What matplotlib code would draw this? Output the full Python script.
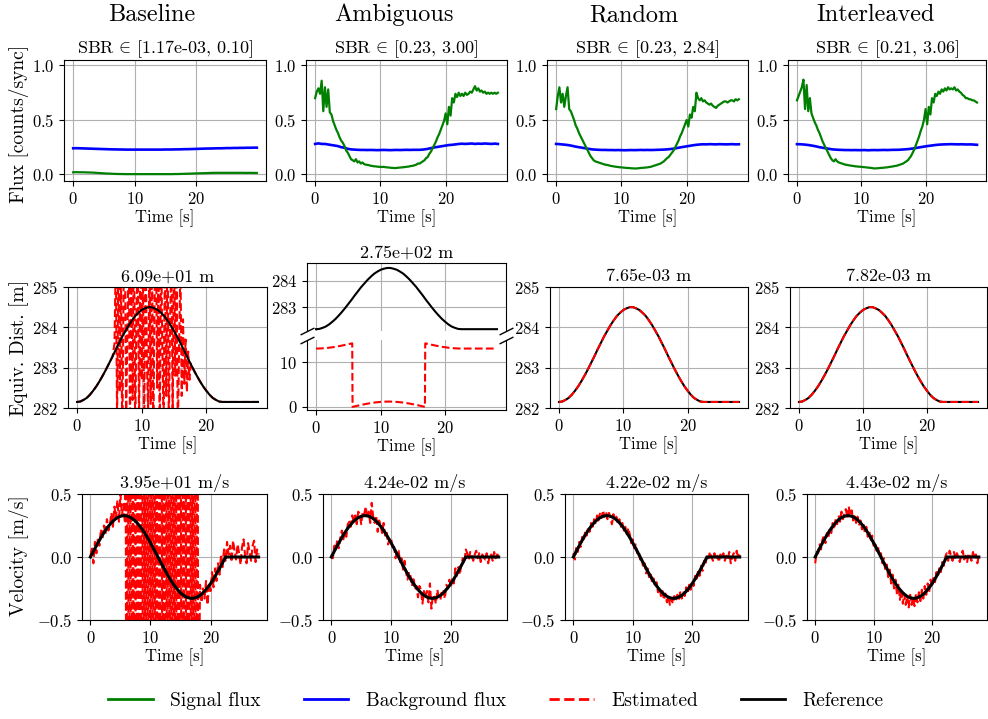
import numpy as np
import matplotlib
matplotlib.use("Agg")
import matplotlib.pyplot as plt
from matplotlib.lines import Line2D

plt.rcParams['font.family'] = 'serif'
plt.rcParams['font.serif'] = ['cmr10']
plt.rcParams['mathtext.fontset'] = 'cm'
plt.rcParams['axes.formatter.use_mathtext'] = True
plt.rcParams['axes.unicode_minus'] = True

# ---------------- data ----------------
methods = ["Baseline", "Ambiguous", "Random", "Interleaved"]
sbr_titles = [r"SBR$\,{\in}\,$[1.17e-03, 0.10]", r"SBR$\,{\in}\,$[0.23, 3.00]",
              r"SBR$\,{\in}\,$[0.23, 2.84]", r"SBR$\,{\in}\,$[0.21, 3.06]"]
dist_titles = ["6.09e+01 m", "2.75e+02 m", "7.65e-03 m", "7.82e-03 m"]
vel_titles = ["3.95e+01 m/s", "4.24e-02 m/s", "4.22e-02 m/s", "4.43e-02 m/s"]
legend_labels = ["Signal flux", "Background flux", "Estimated", "Reference"]

flux_tmax = [29.8, 28.0, 28.0, 28.0]
track_tmax = 28.0

# signal / background flux (baseline and backgrounds: 0.5 s samples; other signals: 0.25 s samples)
sig_baseline = [0.02, 0.021, 0.02, 0.02, 0.019, 0.018, 0.017, 0.015, 0.013, 0.011,
                0.009, 0.008, 0.006, 0.005, 0.004, 0.004, 0.003, 0.003, 0.003, 0.003,
                0.003, 0.003, 0.003, 0.003, 0.003, 0.003, 0.003, 0.003, 0.003, 0.003,
                0.003, 0.004, 0.004, 0.005, 0.006, 0.007, 0.008, 0.009, 0.01, 0.011,
                0.012, 0.013, 0.014, 0.015, 0.015, 0.015, 0.015, 0.015, 0.015, 0.015,
                0.015, 0.015, 0.015, 0.014, 0.015, 0.014, 0.014]
bg_baseline = [0.24, 0.241, 0.24, 0.239, 0.238, 0.237, 0.236, 0.235, 0.234, 0.233,
               0.232, 0.231, 0.23, 0.23, 0.229, 0.229, 0.228, 0.228, 0.228, 0.228,
               0.228, 0.228, 0.228, 0.228, 0.228, 0.228, 0.228, 0.228, 0.229, 0.229,
               0.229, 0.23, 0.23, 0.231, 0.232, 0.232, 0.233, 0.234, 0.235, 0.236,
               0.237, 0.238, 0.238, 0.239, 0.24, 0.24, 0.241, 0.242, 0.242, 0.243,
               0.243, 0.244, 0.244, 0.245, 0.245, 0.246, 0.246]
sig_ambiguous = [0.70, 0.76, 0.79, 0.74, 0.86, 0.58, 0.80, 0.62, 0.78, 0.57,
                 0.55, 0.49, 0.45, 0.41, 0.38, 0.34, 0.31, 0.29, 0.26, 0.22,
                 0.20, 0.17, 0.14, 0.13, 0.12, 0.14, 0.11, 0.12, 0.10, 0.11,
                 0.095, 0.09, 0.088, 0.085, 0.08, 0.078, 0.075, 0.074, 0.072, 0.07,
                 0.07, 0.068, 0.07, 0.067, 0.065, 0.064, 0.062, 0.06, 0.06, 0.058,
                 0.06, 0.062, 0.063, 0.065, 0.066, 0.068, 0.07, 0.072, 0.075, 0.078,
                 0.08, 0.085, 0.09, 0.10, 0.10, 0.11, 0.12, 0.13, 0.15, 0.16,
                 0.19, 0.21, 0.24, 0.27, 0.30, 0.34, 0.37, 0.41, 0.45, 0.49,
                 0.56, 0.46, 0.62, 0.54, 0.70, 0.66, 0.74, 0.71, 0.75, 0.72,
                 0.74, 0.72, 0.75, 0.73, 0.74, 0.76, 0.75, 0.78, 0.81, 0.77,
                 0.79, 0.76, 0.77, 0.75, 0.76, 0.74, 0.75, 0.74, 0.75, 0.74,
                 0.75, 0.74, 0.75]
bg_ambiguous = [0.28, 0.285, 0.28, 0.28, 0.275, 0.27, 0.265, 0.26, 0.25, 0.245,
                0.235, 0.23, 0.228, 0.226, 0.225, 0.225, 0.224, 0.225, 0.224, 0.223,
                0.224, 0.225, 0.224, 0.223, 0.224, 0.225, 0.224, 0.225, 0.226, 0.225,
                0.226, 0.226, 0.226, 0.228, 0.232, 0.238, 0.245, 0.25, 0.255, 0.26,
                0.265, 0.27, 0.272, 0.276, 0.28, 0.282, 0.28, 0.282, 0.284, 0.28,
                0.283, 0.281, 0.284, 0.282, 0.28, 0.283, 0.28]
sig_random = [0.60, 0.72, 0.80, 0.66, 0.74, 0.62, 0.72, 0.80, 0.60, 0.58,
              0.54, 0.50, 0.45, 0.42, 0.38, 0.35, 0.32, 0.29, 0.26, 0.23,
              0.20, 0.17, 0.15, 0.13, 0.12, 0.115, 0.11, 0.105, 0.10, 0.095,
              0.09, 0.088, 0.085, 0.08, 0.077, 0.075, 0.072, 0.07, 0.068, 0.066,
              0.065, 0.063, 0.062, 0.06, 0.06, 0.058, 0.057, 0.056, 0.055, 0.055,
              0.056, 0.058, 0.06, 0.061, 0.062, 0.064, 0.065, 0.068, 0.07, 0.075,
              0.08, 0.085, 0.09, 0.095, 0.10, 0.11, 0.12, 0.135, 0.15, 0.16,
              0.18, 0.20, 0.22, 0.25, 0.28, 0.31, 0.35, 0.38, 0.42, 0.46,
              0.50, 0.44, 0.55, 0.52, 0.62, 0.58, 0.75, 0.70, 0.68, 0.70,
              0.67, 0.68, 0.66, 0.65, 0.64, 0.65, 0.63, 0.62, 0.61, 0.63,
              0.64, 0.65, 0.66, 0.67, 0.67, 0.66, 0.67, 0.68, 0.68, 0.67,
              0.69, 0.68, 0.69]
bg_random = [0.28, 0.278, 0.275, 0.272, 0.268, 0.262, 0.255, 0.25, 0.245, 0.24,
             0.235, 0.23, 0.228, 0.226, 0.225, 0.225, 0.224, 0.224, 0.223, 0.224,
             0.223, 0.222, 0.223, 0.224, 0.223, 0.224, 0.225, 0.224, 0.225, 0.224,
             0.225, 0.226, 0.227, 0.228, 0.23, 0.233, 0.237, 0.242, 0.248, 0.253,
             0.258, 0.263, 0.268, 0.272, 0.275, 0.277, 0.276, 0.278, 0.277, 0.276,
             0.278, 0.277, 0.276, 0.277, 0.278, 0.276, 0.277]
sig_interleaved = [0.68, 0.72, 0.76, 0.80, 0.87, 0.60, 0.82, 0.58, 0.70, 0.56,
                   0.52, 0.48, 0.45, 0.41, 0.38, 0.34, 0.30, 0.27, 0.24, 0.21,
                   0.18, 0.15, 0.13, 0.12, 0.14, 0.12, 0.11, 0.105, 0.10, 0.095,
                   0.09, 0.088, 0.085, 0.082, 0.08, 0.078, 0.075, 0.074, 0.072, 0.071,
                   0.07, 0.068, 0.067, 0.065, 0.063, 0.062, 0.06, 0.058, 0.055, 0.056,
                   0.057, 0.058, 0.06, 0.061, 0.062, 0.064, 0.065, 0.068, 0.07, 0.072,
                   0.075, 0.078, 0.08, 0.085, 0.09, 0.095, 0.10, 0.11, 0.12, 0.13,
                   0.15, 0.17, 0.20, 0.23, 0.27, 0.31, 0.35, 0.40, 0.44, 0.50,
                   0.60, 0.46, 0.62, 0.55, 0.70, 0.66, 0.74, 0.72, 0.76, 0.74,
                   0.78, 0.76, 0.79, 0.77, 0.80, 0.78, 0.79, 0.78, 0.80, 0.77,
                   0.78, 0.76, 0.75, 0.73, 0.72, 0.70, 0.70, 0.69, 0.69, 0.68,
                   0.68, 0.67, 0.66]
bg_interleaved = [0.278, 0.277, 0.275, 0.272, 0.268, 0.263, 0.257, 0.25, 0.245, 0.24,
                  0.235, 0.23, 0.228, 0.226, 0.225, 0.224, 0.224, 0.223, 0.224, 0.223,
                  0.223, 0.224, 0.222, 0.223, 0.224, 0.223, 0.224, 0.225, 0.224, 0.225,
                  0.226, 0.226, 0.227, 0.229, 0.231, 0.234, 0.238, 0.243, 0.248, 0.253,
                  0.258, 0.262, 0.266, 0.27, 0.273, 0.275, 0.276, 0.277, 0.278, 0.277,
                  0.276, 0.277, 0.276, 0.275, 0.276, 0.274, 0.272]

# reference equivalent distance (0.5 s samples)
ref_dist = [282.15, 282.16, 282.20, 282.25, 282.33, 282.43, 282.54, 282.67, 282.81, 282.96,
            283.12, 283.28, 283.45, 283.61, 283.77, 283.91, 284.05, 284.17, 284.28, 284.36,
            284.43, 284.47, 284.50, 284.50, 284.47, 284.43, 284.36, 284.28, 284.17, 284.05,
            283.91, 283.77, 283.61, 283.45, 283.28, 283.12, 282.96, 282.81, 282.67, 282.54,
            282.43, 282.33, 282.25, 282.20, 282.16, 282.15, 282.15, 282.15, 282.15, 282.15,
            282.15, 282.15, 282.15, 282.15, 282.15, 282.15, 282.15]
est_dist_random = [282.15, 282.16, 282.20, 282.25, 282.33, 282.43, 282.54, 282.67, 282.81, 282.96,
                   283.12, 283.28, 283.45, 283.61, 283.77, 283.91, 284.05, 284.17, 284.28, 284.36,
                   284.43, 284.47, 284.50, 284.50, 284.47, 284.43, 284.36, 284.28, 284.17, 284.05,
                   283.91, 283.77, 283.61, 283.45, 283.28, 283.12, 282.96, 282.81, 282.67, 282.54,
                   282.43, 282.33, 282.25, 282.20, 282.16, 282.15, 282.15, 282.15, 282.15, 282.15,
                   282.15, 282.15, 282.15, 282.15, 282.15, 282.15, 282.15]
est_dist_interleaved = [282.15, 282.16, 282.20, 282.25, 282.33, 282.43, 282.54, 282.67, 282.81, 282.96,
                        283.12, 283.28, 283.45, 283.61, 283.77, 283.91, 284.05, 284.17, 284.28, 284.36,
                        284.43, 284.47, 284.50, 284.50, 284.47, 284.43, 284.36, 284.28, 284.17, 284.05,
                        283.91, 283.77, 283.61, 283.45, 283.28, 283.12, 282.96, 282.81, 282.67, 282.54,
                        282.43, 282.33, 282.25, 282.20, 282.16, 282.15, 282.15, 282.15, 282.15, 282.15,
                        282.15, 282.15, 282.15, 282.15, 282.15, 282.15, 282.15]
# baseline estimate: three pieces (before / during / after the failure)
bdist_a = [282.15, 282.16, 282.20, 282.25, 282.33, 282.43, 282.54, 282.67, 282.81, 282.96, 283.12, 283.28]
bdist_b = [283.6, 285.8, 281.7, 286.2, 282.4, 285.3, 281.2, 284.9, 286.4, 281.8,
           283.9, 286.1, 281.5, 285.6, 282.2, 286.8, 281.3, 284.4, 285.9, 281.6,
           286.3, 282.7, 285.1, 281.4, 286.5, 283.2, 281.9, 285.7, 282.1, 286.0,
           281.2, 284.7, 286.6, 282.5, 285.4, 281.3, 286.2, 283.5, 281.7, 285.9,
           282.3, 286.4, 281.6, 284.1, 285.8, 281.9, 286.1, 282.8, 285.2, 281.4,
           283.6, 285.5, 282.3, 284.2, 282.6, 283.7, 282.4, 283.4, 282.7, 283.1]
bdist_c = [282.96, 282.81, 282.67, 282.54, 282.43, 282.33, 282.25, 282.20, 282.16, 282.15,
           282.15, 282.15, 282.15, 282.15, 282.15, 282.15, 282.15, 282.15, 282.15, 282.15, 282.15]
# ambiguous estimate (wrapped), explicit times
amb_est_t = [0, 0.5, 1, 1.5, 2, 2.5, 3, 3.5, 4, 4.5, 5, 5.5, 5.6, 5.65, 6, 6.5, 7, 7.5, 8, 8.5,
             9, 9.5, 10, 10.5, 11, 11.5, 12, 12.5, 13, 13.5, 14, 14.5, 15, 15.5, 16, 16.5, 16.85,
             16.9, 17, 17.5, 18, 18.5, 19, 19.5, 20, 20.5, 21, 21.5, 22, 22.5, 23, 24, 25, 26, 27, 28]
amb_est_v = [13.00, 13.01, 13.05, 13.10, 13.18, 13.28, 13.39, 13.52, 13.66, 13.81, 13.97, 14.13,
             14.16, 0.03, 0.15, 0.31, 0.47, 0.61, 0.75, 0.87, 0.98, 1.06, 1.13, 1.17, 1.20, 1.20,
             1.17, 1.13, 1.06, 0.98, 0.87, 0.75, 0.61, 0.47, 0.31, 0.15, 0.03, 14.16, 14.13,
             13.97, 13.81, 13.66, 13.52, 13.39, 13.28, 13.18, 13.10, 13.05, 13.01, 13.00,
             13.0, 13.0, 13.0, 13.0, 13.0, 13.0]

# reference velocity (0.25 s samples)
ref_vel = [0, .023, .046, .068, .090, .112, .133, .154, .174, .193, .211, .228, .244, .258, .272,
           .284, .295, .304, .312, .318, .323, .326, .328, .328, .326, .323, .318, .312, .304, .295,
           .284, .272, .258, .244, .228, .211, .193, .174, .154, .133, .112, .090, .068, .046, .023,
           0, -.023, -.046, -.068, -.090, -.112, -.133, -.154, -.174, -.193, -.211, -.228, -.244,
           -.258, -.272, -.284, -.295, -.304, -.312, -.318, -.323, -.326, -.328, -.328, -.326,
           -.323, -.318, -.312, -.304, -.295, -.284, -.272, -.258, -.244, -.228, -.211, -.193,
           -.174, -.154, -.133, -.112, -.090, -.068, -.046, -.023, 0,
           0, 0, 0, 0, 0, 0, 0, 0, 0, 0, 0, 0, 0, 0, 0, 0, 0, 0, 0, 0, 0, 0]
vel_ambiguous = [0.02, -0.01, 0.09, 0.06, 0.14, 0.07, 0.15, 0.21, 0.14, 0.20, 0.16, 0.26, 0.28,
                 0.24, 0.33, 0.27, 0.33, 0.26, 0.36, 0.34, 0.26, 0.36, 0.34, 0.40, 0.31, 0.36,
                 0.27, 0.43, 0.32, 0.27, 0.33, 0.20, 0.29, 0.25, 0.19, 0.27, 0.17, 0.20, 0.10,
                 0.15, 0.15, 0.06, 0.08, -0.01, 0.05, 0.05, -0.04, -0.01, -0.10, -0.03, -0.12,
                 -0.18, -0.12, -0.15, -0.23, -0.16, -0.26, -0.23, -0.32, -0.23, -0.26, -0.37,
                 -0.27, -0.33, -0.27, -0.36, -0.21, -0.41, -0.30, -0.32, -0.37, -0.26, -0.33,
                 -0.34, -0.27, -0.26, -0.33, -0.22, -0.25, -0.18, -0.24, -0.17, -0.21, -0.09,
                 -0.15, -0.08, -0.14, -0.06, -0.01, -0.05, 0.06, 0.03, -0.02, 0.04, 0.01, -0.03,
                 0.02, 0.05, -0.01, 0.03, -0.04, 0.02, 0.00, -0.02, 0.03, -0.05, 0.01, 0.02,
                 -0.03, 0.04, -0.01, 0.02, 0.01]
vel_random = [0.03, -0.02, 0.08, 0.04, 0.12, 0.08, 0.16, 0.13, 0.20, 0.17, 0.24, 0.20, 0.27,
              0.24, 0.30, 0.26, 0.33, 0.29, 0.35, 0.31, 0.37, 0.32, 0.36, 0.30, 0.35, 0.31,
              0.26, 0.34, 0.29, 0.32, 0.26, 0.30, 0.24, 0.27, 0.21, 0.24, 0.18, 0.23, 0.18,
              0.11, 0.14, 0.07, 0.10, 0.03, 0.05, -0.02, 0.00, -0.08, -0.05, -0.13, -0.09,
              -0.16, -0.12, -0.20, -0.17, -0.24, -0.20, -0.28, -0.24, -0.31, -0.27, -0.34,
              -0.29, -0.36, -0.31, -0.38, -0.33, -0.37, -0.31, -0.35, -0.30, -0.34, -0.28,
              -0.33, -0.27, -0.31, -0.24, -0.29, -0.22, -0.26, -0.19, -0.23, -0.15, -0.19,
              -0.11, -0.15, -0.07, -0.11, -0.03, -0.06, 0.02, -0.01, 0.04, 0.00, -0.03, 0.03,
              -0.02, 0.01, -0.04, 0.02, -0.01, 0.03, -0.03, 0.01, -0.02, 0.04, -0.05, 0.00,
              0.03, -0.03, 0.05, -0.01, 0.02]
vel_interleaved = [-0.05, 0.04, 0.03, 0.10, 0.06, 0.14, 0.17, 0.11, 0.19, 0.15, 0.23, 0.19,
                   0.27, 0.22, 0.30, 0.26, 0.33, 0.28, 0.36, 0.30, 0.35, 0.38, 0.31, 0.40,
                   0.33, 0.37, 0.29, 0.34, 0.27, 0.32, 0.25, 0.29, 0.22, 0.27, 0.19, 0.24,
                   0.16, 0.21, 0.12, 0.17, 0.09, 0.12, 0.05, 0.08, 0.00, 0.03, -0.05, -0.01,
                   -0.11, -0.06, -0.16, -0.10, -0.21, -0.14, -0.25, -0.18, -0.30, -0.22, -0.34,
                   -0.26, -0.37, -0.29, -0.38, -0.31, -0.40, -0.30, -0.38, -0.32, -0.39, -0.29,
                   -0.36, -0.28, -0.35, -0.26, -0.33, -0.23, -0.30, -0.21, -0.28, -0.18, -0.24,
                   -0.15, -0.20, -0.12, -0.16, -0.08, -0.12, -0.04, -0.07, 0.00, 0.03, -0.03,
                   0.05, 0.01, -0.03, 0.04, -0.02, 0.03, 0.00, -0.04, 0.02, 0.05, -0.02, 0.01,
                   -0.04, 0.03, 0.00, -0.03, 0.04, -0.01, 0.02, -0.05, 0.01]
bvel_a = [0.00, 0.08, -0.05, 0.12, 0.03, 0.15, 0.09, 0.22, 0.14, 0.25, 0.18, 0.30, 0.21, 0.26,
          0.35, 0.24, 0.40, 0.31, 0.45, 0.28, 0.50, 0.33, 0.42, 0.27]
bvel_b = [3.2, -2.9, 3.5, -3.1, 2.8, -3.6, 3.3, -2.7, 3.9, -3.2, 2.9, -3.4, 3.6, -3.0, 3.1,
          -3.8, 2.7, -3.3, 3.4, -2.8, 3.7, -3.5, 3.0, -2.9, 3.8, -3.1, 3.3, -3.7, 2.9, -3.2,
          3.5, -2.8, 3.2, -3.6, 3.0, -3.3, 3.7, -2.9, 3.1, -3.5, 3.4, -3.0, 2.8, -3.7, 3.6,
          -3.1, 3.0, -3.4, 3.3, -2.7, 3.5, -3.2, 2.9, -3.6, 3.4, -3.0, 3.1, -3.3, 2.8, -3.5,
          3.2, -2.9, -0.45]
bvel_c = [-0.22, -0.36, -0.25, -0.33, -0.19, -0.38, -0.21, -0.27, -0.12, -0.24, -0.09, -0.19,
          -0.05, -0.14, 0.02, -0.08, 0.06, -0.03, 0.12, 0.02, 0.09, -0.04, 0.13, 0.05, -0.02,
          0.10, 0.03, -0.06, 0.08, 0.14, 0.01, -0.05, 0.11, 0.04, -0.03, 0.09, 0.13, -0.04,
          0.06, 0.02]

sig_all = [sig_baseline, sig_ambiguous, sig_random, sig_interleaved]
bg_all = [bg_baseline, bg_ambiguous, bg_random, bg_interleaved]
vel_all = [None, vel_ambiguous, vel_random, vel_interleaved]

# ---------------- figure ----------------
W, H = 988, 719
fig = plt.figure(figsize=(W / 100, H / 100), dpi=100)


def add_ax(l, t, r, b):
    return fig.add_axes([l / W, 1 - b / H, (r - l) / W, (b - t) / H])


TICK = 12
LBL = 12
TTL = 13
XL = (-1.4, 29.4)

row1 = [(64, 60, 266, 181), (306, 60, 507, 181), (547, 60, 748, 181), (788, 60, 986, 181)]
row2 = [(68, 287, 267, 408), None, (550, 287, 748, 408), (790, 287, 987, 408)]
row3 = [(82, 494, 267, 620), (323, 494, 507, 620), (565, 494, 748, 620), (807, 494, 987, 620)]
col_title_x = [152, 394, 634, 876]


def style(ax):
    ax.grid(True, color='#b0b0b0', linewidth=0.8)
    ax.tick_params(labelsize=TICK)


for j in range(4):
    # ---- flux row
    ax = add_ax(*row1[j])
    ax.plot(np.linspace(0, flux_tmax[j], len(bg_all[j])), bg_all[j], color='blue', lw=1.9)
    ax.plot(np.linspace(0, flux_tmax[j], len(sig_all[j])), sig_all[j], color='green', lw=1.6)
    ax.set_ylim(-0.06, 1.05)
    ax.set_yticks([0.0, 0.5, 1.0])
    ax.set_xlim(-0.05 * flux_tmax[j], 1.05 * flux_tmax[j])
    ax.set_xticks([0, 10, 20])
    ax.set_xlabel("Time [s]", fontsize=LBL, labelpad=2)
    ax.set_title(sbr_titles[j], fontsize=TTL, pad=4)
    style(ax)

    # ---- distance row
    td = np.linspace(0, track_tmax, len(ref_dist))
    if j == 1:
        ax_u = add_ax(307, 263, 506, 331)
        ax_l = add_ax(307, 340, 506, 410)
        ax_u.plot(td, ref_dist, color='black', lw=1.5)
        ax_u.set_ylim(282.08, 284.69)
        ax_u.set_yticks([283, 284])
        ax_l.plot(amb_est_t, amb_est_v, color='red', ls='--', lw=1.5)
        ax_l.set_ylim(-0.67, 14.9)
        ax_l.set_yticks([0, 10])
        for a in (ax_u, ax_l):
            a.set_xlim(*XL)
            a.set_xticks([0, 10, 20])
            style(a)
        ax_u.spines['bottom'].set_visible(False)
        ax_l.spines['top'].set_visible(False)
        ax_u.tick_params(bottom=False, labelbottom=False)
        ax_l.tick_params(top=False)
        dk = dict(marker=[(-1, -0.5), (1, 0.5)], markersize=10, linestyle='none',
                  color='k', mec='k', mew=1, clip_on=False)
        ax_u.plot([0, 1], [0, 0], transform=ax_u.transAxes, **dk)
        ax_l.plot([0, 1], [1, 1], transform=ax_l.transAxes, **dk)
        ax_u.set_title(dist_titles[j], fontsize=TTL, pad=4)
        ax_l.set_xlabel("Time [s]", fontsize=LBL, labelpad=2)
    else:
        ax = add_ax(*row2[j])
        ax.plot(td, ref_dist, color='black', lw=1.5, zorder=2)
        if j == 0:
            ta = np.linspace(0, 5.5, len(bdist_a))
            tb = np.linspace(5.8, 17.6, len(bdist_b))
            tc = np.linspace(18.0, track_tmax, len(bdist_c))
            ax.plot(np.concatenate([ta, tb, tc]), bdist_a + bdist_b + bdist_c,
                    color='red', ls='--', lw=1.5, zorder=1.8)
        elif j == 2:
            ax.plot(td, est_dist_random, color='red', ls='--', lw=1.5, zorder=3)
        else:
            ax.plot(td, est_dist_interleaved, color='red', ls='--', lw=1.5, zorder=3)
        ax.set_ylim(282, 285)
        ax.set_yticks([282, 283, 284, 285])
        ax.set_xlim(*XL)
        ax.set_xticks([0, 10, 20])
        ax.set_xlabel("Time [s]", fontsize=LBL, labelpad=2)
        ax.set_title(dist_titles[j], fontsize=TTL, pad=4)
        style(ax)

    # ---- velocity row
    ax = add_ax(*row3[j])
    tv = np.linspace(0, track_tmax, len(ref_vel))
    if j == 0:
        ta = np.linspace(0, 5.75, len(bvel_a))
        tb = np.linspace(5.8, 18.2, len(bvel_b))
        tc = np.linspace(18.25, track_tmax, len(bvel_c))
        ax.plot(np.concatenate([ta, tb, tc]), bvel_a + bvel_b + bvel_c,
                color='red', ls='--', lw=1.5)
    else:
        ax.plot(tv, vel_all[j], color='red', ls='--', lw=1.5)
    ax.plot(tv, ref_vel, color='black', lw=2.2)
    ax.set_ylim(-0.5, 0.5)
    ax.set_yticks([-0.5, 0.0, 0.5])
    ax.set_xlim(*XL)
    ax.set_xticks([0, 10, 20])
    ax.set_xlabel("Time [s]", fontsize=LBL, labelpad=2)
    ax.set_title(vel_titles[j], fontsize=TTL, pad=4)
    style(ax)

    fig.text(col_title_x[j] / W, 1 - 15 / H, methods[j], fontsize=17.5,
             ha='center', va='center')

# y labels
fig.text(19 / W, 1 - 124 / H, "Flux [counts/sync]", rotation=90, fontsize=14,
         ha='center', va='center')
fig.text(19 / W, 1 - 348 / H, "Equiv. Dist. [m]", rotation=90, fontsize=14,
         ha='center', va='center')
fig.text(19 / W, 1 - 556 / H, "Velocity [m/s]", rotation=90, fontsize=14,
         ha='center', va='center')

handles = [Line2D([], [], color='green', lw=2),
           Line2D([], [], color='blue', lw=2),
           Line2D([], [], color='red', ls='--', lw=2),
           Line2D([], [], color='black', lw=2)]
fig.legend(handles, legend_labels, loc='center', bbox_to_anchor=(496 / W, 1 - 701 / H),
           ncol=4, frameon=False, fontsize=14, handlelength=2.3, handletextpad=0.9,
           columnspacing=2.2)

fig.savefig("out.png", dpi=100)
